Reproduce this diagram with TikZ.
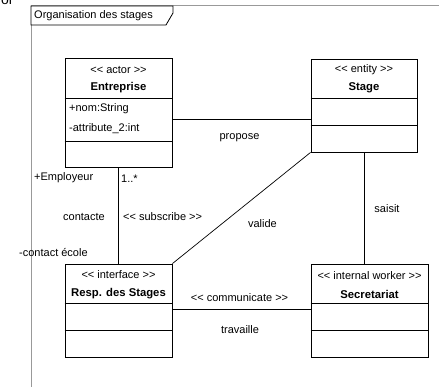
\documentclass[tikz,border=0pt]{standalone}
\usepackage{fontspec}
\setmainfont{Liberation Sans}
\usetikzlibrary{calc}
\begin{document}
\begin{tikzpicture}[x=1pt,y=-1pt,
  classbox/.style={draw=black, line width=0.8pt, rectangle, inner sep=0pt},
  divider/.style={draw=black, line width=0.8pt},
  assoc/.style={draw=black, line width=0.7pt},
  lbl/.style={font=\fontsize{11}{13}\selectfont, inner sep=0pt, text=black},
  stereo/.style={font=\fontsize{11}{13}\selectfont, inner sep=0pt},
  cname/.style={font=\fontsize{11.3}{13}\selectfont\bfseries, inner sep=0pt},
  framebar/.style={draw=black!40, line width=1pt}]
\useasboundingbox (0,0) rectangle (439,387);
\fill[white] (0,0) rectangle (439,387);

% heading remnant clipped by the top edge
\node[font=\fontsize{14}{16}\selectfont, anchor=base west, inner sep=0pt] (cut) at (1,5) {or};

% package frame
\draw[framebar] (31,6) -- (439,6);
\draw[framebar] (31,6) -- (31,387);
\draw[black, line width=0.8pt, fill=white] (31,6) -- (173,6) -- (173,13) -- (166,25) -- (31,25) -- cycle;
\node[lbl, anchor=west] (frametitle) at (34,16) {Organisation des stages};

% classes
\node[classbox, minimum width=107pt, minimum height=109pt] (ent) at (118.5,112.5) {};
\node[classbox, minimum width=106pt, minimum height=93pt] (stage) at (364,105.5) {};
\node[classbox, minimum width=107pt, minimum height=93pt] (resp) at (118.5,310.5) {};
\node[classbox, minimum width=117pt, minimum height=93pt] (sec) at (369.5,310.5) {};

% compartment dividers
\draw[divider] (ent.west |- 0,98) -- (ent.east |- 0,98);
\draw[divider] (ent.west |- 0,141) -- (ent.east |- 0,141);
\draw[divider] (stage.west |- 0,98) -- (stage.east |- 0,98);
\draw[divider] (stage.west |- 0,125) -- (stage.east |- 0,125);
\draw[divider] (resp.west |- 0,303) -- (resp.east |- 0,303);
\draw[divider] (resp.west |- 0,330) -- (resp.east |- 0,330);
\draw[divider] (sec.west |- 0,303) -- (sec.east |- 0,303);
\draw[divider] (sec.west |- 0,330) -- (sec.east |- 0,330);

% class texts (the {} keeps << and >> from turning into guillemets)
\node[stereo] (entst) at (118.5,70) {<{}< actor >{}>};
\node[cname] (entnm) at (118.5,88) {Entreprise};
\node[lbl, anchor=west] (entat1) at (69,109) {+nom:String};
\node[lbl, anchor=west] (entat2) at (69,129) {-attribute\_2:int};

\node[stereo] (stagest) at (364,70) {<{}< entity >{}>};
\node[cname] (stagenm) at (364,88) {Stage};

\node[stereo] (respst) at (118.5,275) {<{}< interface >{}>};
\node[cname] (respnm) at (118.5,293.5) {Resp. des Stages};

\node[stereo] (secst) at (369.5,276) {<{}< internal worker >{}>};
\node[cname] (secnm) at (369.5,294) {Secretariat};

% associations
\draw[assoc] (ent.east |- 0,119) -- (stage.west |- 0,119);
\draw[assoc] (ent.south) -- (resp.north);
\draw[assoc] (stage.south west) -- (resp.north east);
\draw[assoc] (stage.south) -- (stage.south |- sec.north);
\draw[assoc] (resp.east |- 0,309) -- (sec.west |- 0,309);

% association labels
\node[lbl] (propose) at (239.5,138) {propose};
\node[lbl, anchor=west] (employeur) at (34,178) {+Employeur};
\node[lbl, anchor=west] (mult) at (121,179) {1..*};
\node[lbl] (contacte) at (84,217) {contacte};
\node[stereo, anchor=west] (subscribe) at (123,217) {<{}< subscribe >{}>};
\node[lbl, anchor=west] (contactecole) at (19,253) {-contact école};
\node[lbl] (valide) at (262.5,224) {valide};
\node[lbl] (saisit) at (387,209) {saisit};
\node[stereo] (communicate) at (239.5,298) {<{}< communicate >{}>};
\node[lbl] (travaille) at (240,330) {travaille};
\end{tikzpicture}
\end{document}
